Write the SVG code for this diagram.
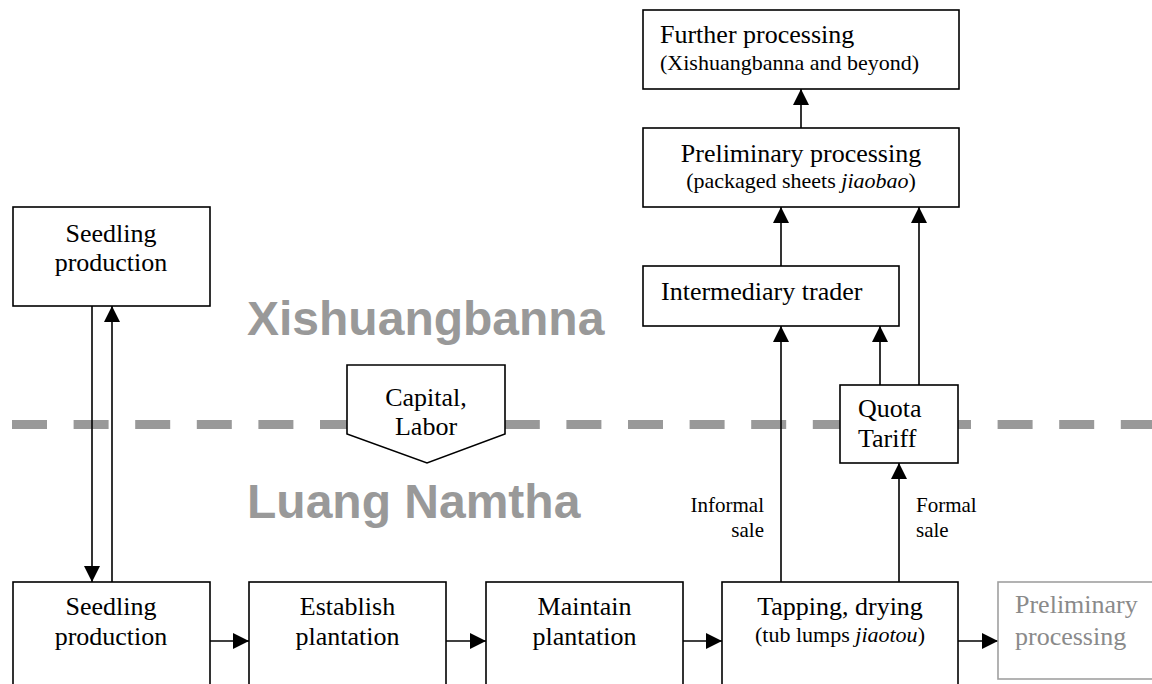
<svg xmlns="http://www.w3.org/2000/svg" width="1152" height="684" viewBox="0 0 1152 684">
<style>
.box{fill:#fff;stroke:#000;stroke-width:1.6}
.gbox{fill:#fff;stroke:#a0a0a0;stroke-width:1.6}
.t{font-family:"Liberation Serif","Times New Roman",serif;font-size:26px;fill:#000}
.s{font-family:"Liberation Serif","Times New Roman",serif;font-size:22px;fill:#000}
.l{font-family:"Liberation Serif","Times New Roman",serif;font-size:21px;fill:#000}
.g{font-family:"Liberation Serif","Times New Roman",serif;font-size:26px;fill:#8a8a8a}
.region{font-family:"Liberation Sans",Arial,sans-serif;font-size:48px;font-weight:bold;fill:#999}
.c{text-anchor:middle}
.conn{stroke:#000;stroke-width:1.6;fill:none}
</style>
<defs>
<marker id="ah" markerUnits="userSpaceOnUse" markerWidth="18" markerHeight="16" refX="16" refY="8" orient="auto">
<path d="M0,0 L16,8 L0,16 Z" fill="#000"/>
</marker>
</defs>
<rect width="1152" height="684" fill="#fff"/>
<g id="regions">
<text class="region" x="247" y="335">Xishuangbanna</text>
<text class="region" x="247" y="518">Luang Namtha</text>
</g>
<line id="border" x1="12" y1="424.5" x2="1152" y2="424.5" stroke="#999" stroke-width="9" stroke-dasharray="35 26.6"/>
<g id="connectors">
<line class="conn" x1="92" y1="306" x2="92" y2="582" marker-end="url(#ah)"/>
<line class="conn" x1="112" y1="582" x2="112" y2="306" marker-end="url(#ah)"/>
<line class="conn" x1="210" y1="641" x2="249" y2="641" marker-end="url(#ah)"/>
<line class="conn" x1="446" y1="641" x2="486" y2="641" marker-end="url(#ah)"/>
<line class="conn" x1="683" y1="641" x2="722" y2="641" marker-end="url(#ah)"/>
<line class="conn" x1="958" y1="641" x2="998" y2="641" marker-end="url(#ah)"/>
<line class="conn" x1="781" y1="582" x2="781" y2="326" marker-end="url(#ah)"/>
<line class="conn" x1="899" y1="582" x2="899" y2="463" marker-end="url(#ah)"/>
<line class="conn" x1="880" y1="385" x2="880" y2="326" marker-end="url(#ah)"/>
<line class="conn" x1="919" y1="385" x2="919" y2="207" marker-end="url(#ah)"/>
<line class="conn" x1="781" y1="266" x2="781" y2="207" marker-end="url(#ah)"/>
<line class="conn" x1="801" y1="128" x2="801" y2="89" marker-end="url(#ah)"/>
<text class="l" x="764" y="512" text-anchor="end">Informal</text>
<text class="l" x="764" y="537" text-anchor="end">sale</text>
<text class="l" x="916" y="512">Formal</text>
<text class="l" x="916" y="537">sale</text>
</g>
<g id="further">
<rect class="box" x="643" y="10" width="316" height="79"/>
<text class="t" x="660" y="43">Further processing</text>
<text class="s" x="660" y="70">(Xishuangbanna and beyond)</text>
</g>
<g id="prelim-xsbn">
<rect class="box" x="643" y="128" width="316" height="79"/>
<text class="t c" x="801" y="162">Preliminary processing</text>
<text class="s c" x="801" y="188">(packaged sheets <tspan font-style="italic">jiaobao</tspan>)</text>
</g>
<g id="trader">
<rect class="box" x="643" y="266" width="256" height="60"/>
<text class="t" x="661" y="300">Intermediary trader</text>
</g>
<g id="quota">
<rect class="box" x="840" y="385" width="118" height="78"/>
<text class="t" x="858" y="417">Quota</text>
<text class="t" x="858" y="447">Tariff</text>
</g>
<g id="capital">
<polygon class="box" points="347,365 505,365 505,434 427,463 347,434"/>
<text class="t c" x="426" y="406">Capital,</text>
<text class="t c" x="426" y="435">Labor</text>
</g>
<g id="seedling-xsbn">
<rect class="box" x="13" y="207" width="197" height="99"/>
<text class="t c" x="111" y="242">Seedling</text>
<text class="t c" x="111" y="271">production</text>
</g>
<g id="seedling-ln">
<rect class="box" x="13" y="582" width="197" height="120"/>
<text class="t c" x="111" y="615">Seedling</text>
<text class="t c" x="111" y="645">production</text>
</g>
<g id="establish">
<rect class="box" x="249" y="582" width="197" height="120"/>
<text class="t c" x="347.5" y="615">Establish</text>
<text class="t c" x="347.5" y="645">plantation</text>
</g>
<g id="maintain">
<rect class="box" x="486" y="582" width="197" height="120"/>
<text class="t c" x="584.5" y="615">Maintain</text>
<text class="t c" x="584.5" y="645">plantation</text>
</g>
<g id="tapping">
<rect class="box" x="722" y="582" width="236" height="120"/>
<text class="t c" x="840" y="615">Tapping, drying</text>
<text class="s c" x="840" y="642">(tub lumps <tspan font-style="italic">jiaotou</tspan>)</text>
</g>
<g id="prelim-ln">
<rect class="gbox" x="998" y="582" width="170" height="97"/>
<text class="g" x="1015" y="613">Preliminary</text>
<text class="g" x="1015" y="645">processing</text>
</g>
</svg>
